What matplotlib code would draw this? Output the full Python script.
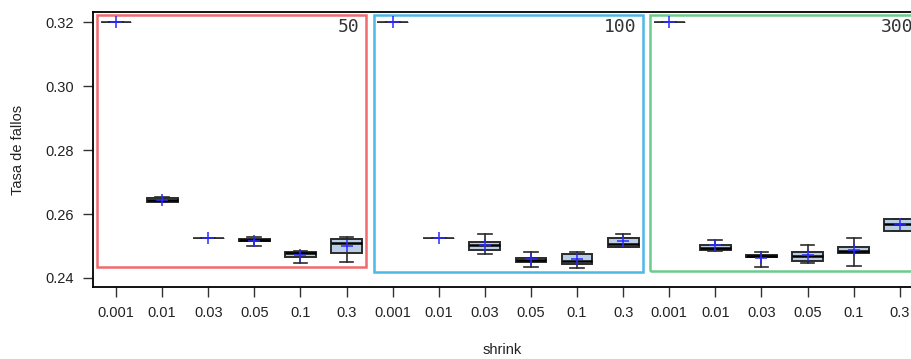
import numpy as np
import matplotlib.pyplot as plt
from matplotlib.patches import Rectangle
from matplotlib import font_manager

# shrink values tested for each number of trees
shrink = ['0.001', '0.01', '0.03', '0.05', '0.1', '0.3']
n_trees = ['50', '100', '300']
frame_colors = ['#F06A6E', '#4CB8E6', '#6CCB8E']

# box statistics, 6 shrink values per tree count (50, 100, 300)
whislo = [0.3200, 0.2637, 0.2525, 0.2499, 0.2447, 0.2450,
          0.3200, 0.2525, 0.2475, 0.2434, 0.2430, 0.2498,
          0.3200, 0.2483, 0.2434, 0.2446, 0.2438, 0.2547]
q1 = [0.3200, 0.2638, 0.2525, 0.2515, 0.2465, 0.2478,
      0.3200, 0.2525, 0.2489, 0.2449, 0.2445, 0.2498,
      0.3200, 0.2489, 0.2465, 0.2453, 0.2477, 0.2547]
med = [0.3200, 0.2643, 0.2525, 0.2518, 0.2479, 0.2511,
       0.3200, 0.2525, 0.2502, 0.2455, 0.2453, 0.2506,
       0.3200, 0.2495, 0.2470, 0.2468, 0.2485, 0.2568]
q3 = [0.3200, 0.2649, 0.2525, 0.2523, 0.2481, 0.2521,
      0.3200, 0.2525, 0.2513, 0.2464, 0.2476, 0.2524,
      0.3200, 0.2502, 0.2473, 0.2481, 0.2496, 0.2586]
whishi = [0.3200, 0.2653, 0.2525, 0.2527, 0.2485, 0.2528,
          0.3200, 0.2525, 0.2537, 0.2480, 0.2480, 0.2537,
          0.3200, 0.2520, 0.2480, 0.2503, 0.2524, 0.2586]
mean = [0.3200, 0.2643, 0.2525, 0.2516, 0.2471, 0.2499,
        0.3200, 0.2525, 0.2502, 0.2459, 0.2459, 0.2516,
        0.3200, 0.2502, 0.2464, 0.2471, 0.2487, 0.2568]

available = {f.name for f in font_manager.fontManager.ttflist}
if 'Liberation Sans Narrow' in available:
    plt.rcParams['font.family'] = ['Liberation Sans Narrow', 'DejaVu Sans']
else:
    plt.rcParams['font.family'] = ['Liberation Sans', 'DejaVu Sans']

stats = []
for i in range(len(med)):
    stats.append(dict(whislo=whislo[i], q1=q1[i], med=med[i], q3=q3[i],
                      whishi=whishi[i], mean=mean[i], fliers=[]))

n = len(stats)
pos = np.arange(1, n + 1)

fig = plt.figure(figsize=(9.12, 3.59), dpi=100)
ax = fig.add_axes([93 / 912, 72 / 359, 829.8 / 912, 274.7 / 359])

bp = ax.bxp(stats, positions=pos, widths=0.67, capwidths=0.3,
            patch_artist=True, showmeans=True, showfliers=False,
            boxprops=dict(facecolor='#B9CDE4', edgecolor='#2b2b2b', linewidth=1.4),
            medianprops=dict(color='black', linewidth=1.8),
            whiskerprops=dict(color='#2b2b2b', linewidth=1.2),
            capprops=dict(color='#2b2b2b', linewidth=1.2),
            meanprops=dict(marker='+', markeredgecolor='#2a2aff',
                           markersize=9, markeredgewidth=1.1))

# runs where every value is identical collapse to a thin line
for i, line in enumerate(bp['medians']):
    if q1[i] == q3[i]:
        line.set_linewidth(1.2)
        line.set_color('#2b2b2b')
        bp['boxes'][i].set_linewidth(0.6)

# coloured panel around each tree-count group
k = len(shrink)
for g, (label, col) in enumerate(zip(n_trees, frame_colors)):
    lo = min(whislo[g * k:(g + 1) * k]) - 0.0012
    hi = max(whishi[g * k:(g + 1) * k]) + 0.0023
    x0 = g * k + 0.59
    ax.add_patch(Rectangle((x0, lo), 5.83, hi - lo, fill=False,
                           edgecolor=col, linewidth=1.8, zorder=1))
    ax.text(x0 + 5.70, hi - 0.0008, label, ha='right', va='top',
            fontsize=13, family='DejaVu Sans Mono', color='#333333')

ax.set_xlim(0.5, n + 0.5)
ax.set_ylim(0.23718, 0.32313)
ax.set_xticks(pos)
ax.set_xticklabels(shrink * len(n_trees))
ax.set_yticks([0.24, 0.26, 0.28, 0.30, 0.32])
ax.set_yticklabels(['0.24', '0.26', '0.28', '0.30', '0.32'])
ax.tick_params(direction='out', length=7, width=1, color='#333333',
               labelsize=10.5, pad=7, labelcolor='#222222')

for s in ['left', 'bottom', 'top']:
    ax.spines[s].set_linewidth(1.3)
    ax.spines[s].set_color('black')
ax.spines['right'].set_visible(False)

ax.set_xlabel('shrink', fontsize=10.5, color='#222222')
ax.set_ylabel('Tasa de fallos', fontsize=10.5, color='#222222')
ax.xaxis.set_label_coords(0.493, -0.205)
ax.yaxis.set_label_coords(-0.082, 0.5)

fig.savefig('out.png', dpi=100)
